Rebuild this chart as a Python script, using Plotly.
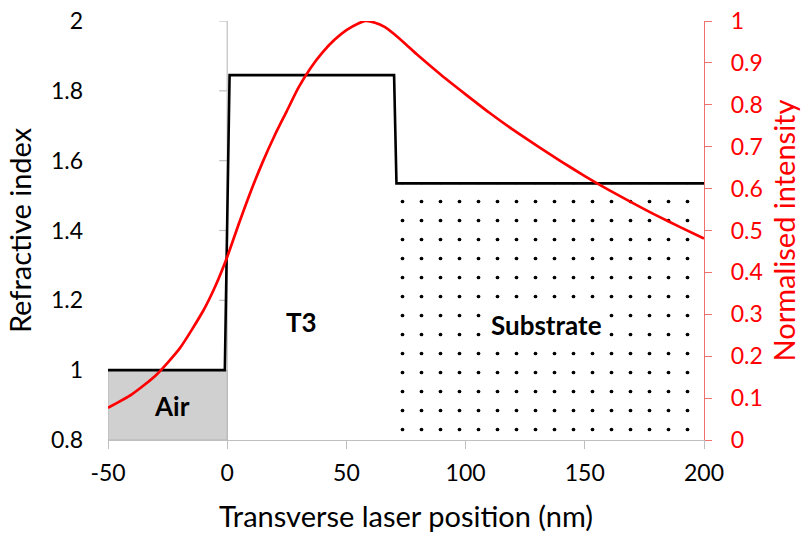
import plotly.graph_objects as go

# ---- data ----
# refractive index profile (step)
profile_x = [-50, -1, 1, 70, 71, 200]
profile_n = [1.0, 1.0, 1.845, 1.845, 1.535, 1.535]

# regions
air_x = [-50, 0]
air_n = 1.0
substrate_x = [71, 200]
substrate_n = 1.535
n_floor = 0.8

# normalised intensity
intensity_x = [-50, -40, -30, -20, -10, -5, 0, 5, 10, 15, 20, 25, 30, 35, 40, 45, 50, 55, 58,
               62, 66, 70, 75, 80, 90, 100, 110, 120, 130, 140, 150, 160, 170, 180, 190, 200]
intensity_v = [0.077, 0.109, 0.154, 0.218, 0.309, 0.367, 0.437, 0.518, 0.595, 0.665, 0.728,
               0.785, 0.842, 0.888, 0.925, 0.955, 0.978, 0.994, 1.0,
               0.996, 0.986, 0.969, 0.944, 0.918, 0.870, 0.825, 0.781, 0.740, 0.702, 0.665,
               0.630, 0.597, 0.566, 0.536, 0.508, 0.481]

x_ticks = [-50, 0, 50, 100, 150, 200]
x_tick_text = ["-50", "0", "50", "100", "150", "200"]
y_ticks = [0.8, 1, 1.2, 1.4, 1.6, 1.8, 2]
y2_ticks = [0, 0.1, 0.2, 0.3, 0.4, 0.5, 0.6, 0.7, 0.8, 0.9, 1]

labels = [("Air", -23.3, 0.898, None), ("T3", 31.2, 1.138, None),
          ("Substrate", 134, 1.129, "white")]

FONT = "Lato"
AXIS_GREY = "#bfbfbf"

fig = go.Figure()

# Air region
fig.add_trace(go.Scatter(
    x=[air_x[0], air_x[1], air_x[1], air_x[0], air_x[0]],
    y=[n_floor, n_floor, air_n, air_n, n_floor],
    fill="toself", fillcolor="#d0d0d0", line=dict(width=0.8, color="#b0b0b0"),
    mode="lines", hoverinfo="skip", showlegend=False))

# Substrate region (stippled)
fig.add_trace(go.Scatter(
    x=[substrate_x[0], substrate_x[1], substrate_x[1], substrate_x[0], substrate_x[0]],
    y=[n_floor, n_floor, substrate_n, substrate_n, n_floor],
    fill="toself", fillcolor="white", line=dict(width=0),
    fillpattern=dict(shape=".", fgcolor="black", bgcolor="white", fgopacity=1,
                     size=19, solidity=0.03),
    mode="lines", hoverinfo="skip", showlegend=False))

# refractive index profile
fig.add_trace(go.Scatter(x=profile_x, y=profile_n, mode="lines",
                         line=dict(color="black", width=2.6), showlegend=False))

# intensity
fig.add_trace(go.Scatter(x=intensity_x, y=intensity_v, mode="lines", yaxis="y2",
                         line=dict(color="#ff0000", width=2.7, shape="spline", smoothing=0.6),
                         showlegend=False))

# left axis line drawn at x = 0 (crossing point) with outward ticks
fig.add_shape(type="line", xref="x", yref="y", x0=0, x1=0, y0=y_ticks[0], y1=y_ticks[-1],
              line=dict(color=AXIS_GREY, width=1.2), layer="below")
for t in y_ticks:
    fig.add_shape(type="line", xref="x", yref="y", xsizemode="pixel", xanchor=0,
                  x0=-8, x1=0, y0=t, y1=t, line=dict(color=AXIS_GREY, width=1.2), layer="below")

for txt, lx, ly, bg in labels:
    fig.add_annotation(x=lx, y=ly, text="<b>%s</b>" % txt, showarrow=False,
                       bgcolor=bg, borderpad=2,
                       font=dict(family=FONT, size=26, color="black"))

fig.update_layout(
    width=803, height=533,
    margin=dict(l=108, r=99, t=21, b=93, autoexpand=False),
    paper_bgcolor="white", plot_bgcolor="white",
    font=dict(family=FONT, color="black"),
    xaxis=dict(range=[-50, 200], tickvals=x_ticks, ticktext=x_tick_text, showgrid=False,
               zeroline=False, showline=True, linecolor=AXIS_GREY, linewidth=1.2,
               ticks="outside", ticklen=8, tickcolor=AXIS_GREY, tickwidth=1.2,
               ticklabelstandoff=4, automargin=False,
               tickfont=dict(size=23, color="black"),
               title=dict(text="Transverse laser position (nm)", font=dict(size=29), standoff=22)),
    yaxis=dict(range=[0.8, 2], tickvals=y_ticks, showgrid=False, zeroline=False,
               showline=False, ticks="", ticklabelstandoff=24, automargin=False,
               tickfont=dict(size=23, color="black"),
               title=dict(text="Refractive index", font=dict(size=29), standoff=10)),
    yaxis2=dict(range=[0, 1], tickvals=y2_ticks, overlaying="y", side="right",
                showgrid=False, zeroline=False, showline=True, automargin=False,
                linecolor="#f07070", linewidth=1.2, ticks="outside", ticklen=7,
                tickcolor="#f07070", tickwidth=1.2, ticklabelstandoff=14,
                tickfont=dict(size=23, color="#ff0000"),
                title=dict(text="Normalised intensity", font=dict(size=29, color="#ff0000"),
                           standoff=12)),
)

fig.write_html("out.html")
